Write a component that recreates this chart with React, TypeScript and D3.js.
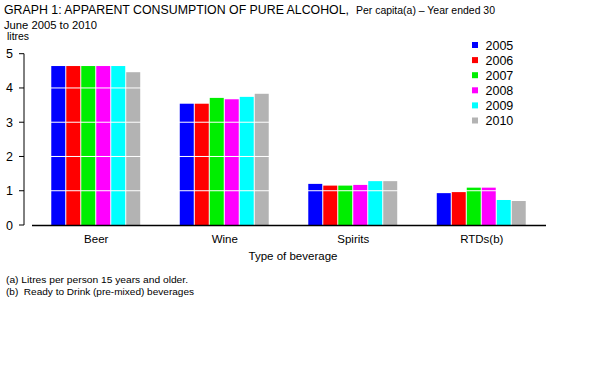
import React from "react";
import * as d3 from "d3";

const categories = ["Beer", "Wine", "Spirits", "RTDs(b)"];
const years = ["2005", "2006", "2007", "2008", "2009", "2010"];
const colors = ["#0000ff", "#ff0000", "#00ee00", "#ff00ff", "#00ffff", "#b3b3b3"];
const values2005 = [4.64, 3.54, 1.2, 0.93];
const values2006 = [4.64, 3.54, 1.15, 0.96];
const values2007 = [4.64, 3.71, 1.15, 1.09];
const values2008 = [4.64, 3.67, 1.17, 1.09];
const values2009 = [4.64, 3.74, 1.28, 0.73];
const values2010 = [4.46, 3.83, 1.28, 0.7];
const series = [values2005, values2006, values2007, values2008, values2009, values2010];
const yTicks = [0, 1, 2, 3, 4, 5];

export default function App() {
  const W = 615, H = 379;
  const x0 = 32, x1 = 546, yTop = 53.7, yBot = 225;
  const font = "'Liberation Sans', Arial, sans-serif";
  const x = d3.scaleBand<string>().domain(categories).range([x0, x1]).paddingInner(0.3).paddingOuter(0.15);
  const xi = d3.scaleBand<string>().domain(years).range([0, x.bandwidth()]).padding(0);
  const y = d3.scaleLinear().domain([0, 5]).range([yBot, yTop]);
  return (
    <svg width={W} height={H} style={{ position: "absolute", left: 0, top: 0, background: "#fff" }}>
      <text y={14} fontFamily={font} fill="#000">
        <tspan x={4} fontSize={12.5} textLength={345} lengthAdjust="spacingAndGlyphs">GRAPH 1: APPARENT CONSUMPTION OF PURE ALCOHOL,</tspan>
        <tspan x={356} fontSize={10.5} textLength={139} lengthAdjust="spacingAndGlyphs">Per capita(a) – Year ended 30</tspan>
      </text>
      <text x={4} y={28.5} fontFamily={font} fontSize={10.5} fill="#000" textLength={93} lengthAdjust="spacingAndGlyphs">June 2005 to 2010</text>
      <text x={7} y={40} fontFamily={font} fontSize={10.5} fill="#000" textLength={22} lengthAdjust="spacingAndGlyphs">litres</text>
      {categories.map((c, ci) =>
        series.map((s, si) => (
          <rect key={c + si} x={(x(c) as number) + (xi(years[si]) as number)} y={y(s[ci])}
            width={xi.bandwidth() - 1} height={yBot - y(s[ci])} fill={colors[si]} />
        ))
      )}
      {yTicks.slice(1).map((t) => (
        <line key={t} x1={x0} x2={x1} y1={y(t)} y2={y(t)} stroke="#fff" strokeWidth={1} />
      ))}
      <line x1={24} x2={24} y1={yTop} y2={yBot} stroke="#000" />
      {yTicks.map((t) => (
        <g key={t}>
          <line x1={19} x2={24} y1={y(t)} y2={y(t)} stroke="#000" />
          <text x={9.5} y={y(t) + 4.5} textAnchor="middle" fontFamily={font} fontSize={12.5} fill="#000">{t}</text>
        </g>
      ))}
      <line x1={x0} x2={x1} y1={yBot + 0.5} y2={yBot + 0.5} stroke="#000" strokeWidth={1.3} />
      {categories.map((c) => (
        <text key={c} x={(x(c) as number) + x.bandwidth() / 2} y={243} textAnchor="middle" fontFamily={font} fontSize={11.5} fill="#000">{c}</text>
      ))}
      <text x={293} y={260} textAnchor="middle" fontFamily={font} fontSize={11.5} fill="#000">Type of beverage</text>
      {years.map((yr, i) => (
        <g key={yr}>
          <rect x={472} y={42 + i * 15.1} width={6} height={6} fill={colors[i]} />
          <text x={485.5} y={49.5 + i * 15.1} fontFamily={font} fontSize={12.5} fill="#000">{yr}</text>
        </g>
      ))}
      <text x={6} y={283} fontFamily={font} fontSize={9.5} fill="#000" textLength={182} lengthAdjust="spacingAndGlyphs">(a) Litres per person 15 years and older.</text>
      <text x={6} y={294.5} fontFamily={font} fontSize={9.5} fill="#000" textLength={188} lengthAdjust="spacingAndGlyphs" style={{ whiteSpace: "pre" }}>{"(b)  Ready to Drink (pre-mixed) beverages"}</text>
    </svg>
  );
}
